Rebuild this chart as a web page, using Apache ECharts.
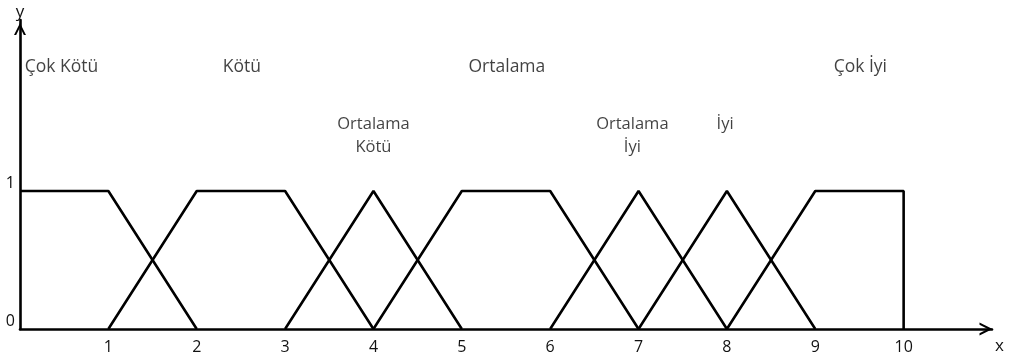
<!DOCTYPE html>
<html>
<head>
<meta charset="utf-8">
<script src="https://cdn.jsdelivr.net/npm/echarts@6/dist/echarts.min.js"></script>
<style>html,body{margin:0;padding:0;background:#fff}#c{width:1009px;height:357px}</style>
</head>
<body>
<div id="c"></div>
<script>
// Membership function breakpoints [x, membership]
const cokKotu     = [[0,1],[1,1],[2,0]];
const kotu        = [[1,0],[2,1],[3,1],[4,0]];
const ortKotu     = [[3,0],[4,1],[5,0]];
const ortalama    = [[4,0],[5,1],[6,1],[7,0]];
const ortIyi      = [[6,0],[7,1],[8,0]];
const iyi         = [[7,0],[8,1],[9,0]];
const cokIyi      = [[8,0],[9,1],[10,1],[10,0]];

// Set labels and their anchor positions (data coordinates)
const topLabels   = ['Çok Kötü','Kötü','Ortalama','Çok İyi'];
const topLabelX   = [0.47, 2.51, 5.51, 9.51];
const topLabelY   = 1.965;
const midLabels   = ['Ortalama\nKötü','Ortalama\nİyi','İyi'];
const midLabelX   = [4.0, 6.93, 7.98];
const midLabelY   = 1.565;

const xTicks = [1,2,3,4,5,6,7,8,9,10];
const yTicks = [0,1];

const FONT = 'Open Sans';
const TXT = '#111';
const arrowPath = 'path://M0,10 L5,0 L10,10 L8.2,10 L5,3.6 L1.8,10 Z';

const chart = echarts.init(document.getElementById('c'), null, {renderer:'canvas'});
const lineSeries = [cokKotu,kotu,ortKotu,ortalama,ortIyi,iyi,cokIyi].map(d => ({
  type:'line', data:d, symbol:'none', silent:true, animation:false,
  lineStyle:{color:'#000', width:2.6}, z:3
}));

chart.setOption({
  animation:false,
  grid:{left:20, right:17, top:20, bottom:28},
  xAxis:{
    type:'value', min:0, max:11, interval:1,
    name:'x', nameLocation:'end', nameGap:3,
    nameTextStyle:{fontFamily:FONT, fontSize:17, color:TXT, verticalAlign:'top', padding:[9,0,0,0]},
    axisLine:{show:true, onZero:false, lineStyle:{color:'#000', width:2.6},
      symbol:['none', arrowPath], symbolSize:[15,13], symbolOffset:[0,-6]},
    axisTick:{show:false}, splitLine:{show:false},
    axisLabel:{fontFamily:FONT, fontSize:16, color:TXT, margin:10,
      formatter: v => xTicks.includes(v) ? String(v) : ''}
  },
  yAxis:{
    type:'value', min:0, max:2.24, interval:1,
    name:'y', nameLocation:'end', nameGap:-1,
    nameTextStyle:{fontFamily:FONT, fontSize:17, color:TXT, align:'center', verticalAlign:'bottom', padding:[0,0,0,0]},
    axisLine:{show:true, onZero:false, lineStyle:{color:'#000', width:2.6},
      symbol:['none', arrowPath], symbolSize:[12,13], symbolOffset:[0,-9]},
    axisTick:{show:false}, splitLine:{show:false},
    axisLabel:{fontFamily:FONT, fontSize:16, color:TXT, margin:5, verticalAlign:'bottom',
      formatter: v => yTicks.includes(v) ? String(v) : ''}
  },
  series:[
    ...lineSeries,
    {
      type:'scatter', symbolSize:0, silent:true,
      data: topLabels.map((t,i) => ({value:[topLabelX[i], topLabelY], name:t})),
      label:{show:true, position:'inside', formatter: p => p.name,
        fontFamily:FONT, fontSize:17.5, color:TXT, verticalAlign:'top'}
    },
    {
      type:'scatter', symbolSize:0, silent:true,
      data: midLabels.map((t,i) => ({value:[midLabelX[i], midLabelY], name:t})),
      label:{show:true, position:'inside', formatter: p => p.name,
        fontFamily:FONT, fontSize:16.5, lineHeight:23, color:TXT, verticalAlign:'top', align:'center'}
    }
  ]
});
</script>
</body>
</html>
